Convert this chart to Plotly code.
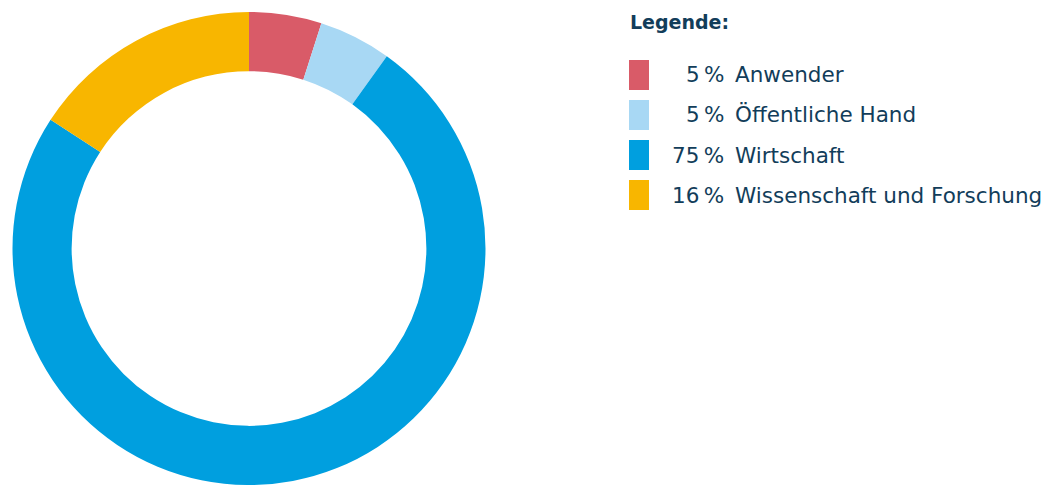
import plotly.graph_objects as go

labels = ["Anwender", "Öffentliche Hand", "Wirtschaft", "Wissenschaft und Forschung"]
values = [5, 5, 75, 16]
colors = ["#D95B68", "#A8D8F4", "#009FDF", "#F8B600"]
legend_title = "Legende:"

W, H = 1052, 486
OFF = 8  # default page body margin
TEXT = "#123D5A"
FONT = "DejaVu Sans"


def px(x):
    return (x - OFF) / W


def py(y):
    return 1 - (y - OFF) / H


fig = go.Figure(go.Pie(
    labels=labels, values=values, sort=False, direction="clockwise", rotation=0,
    hole=0.75, textinfo="none", hoverinfo="label+percent",
    marker=dict(colors=colors, line=dict(width=0)),
    domain=dict(x=[px(11), px(487)], y=[py(485), py(12)]),
    showlegend=False,
))

annotations = [dict(x=px(628), y=py(22), xref="paper", yref="paper", text="<b>" + legend_title + "</b>",
                    showarrow=False, xanchor="left", yanchor="middle",
                    font=dict(family=FONT, size=19, color=TEXT))]
shapes = []
for i, (lab, val, col) in enumerate(zip(labels, values, colors)):
    cy = 75 + 40 * i
    shapes.append(dict(type="rect", xref="paper", yref="paper", x0=px(629), x1=px(649),
                       y0=py(cy + 15), y1=py(cy - 15), fillcolor=col, line=dict(width=0)))
    annotations.append(dict(x=px(726), y=py(cy), xref="paper", yref="paper", text=f"{val}\u202f%",
                            showarrow=False, xanchor="right", yanchor="middle",
                            font=dict(family=FONT, size=21.5, color=TEXT)))
    annotations.append(dict(x=px(733), y=py(cy), xref="paper", yref="paper", text=lab,
                            showarrow=False, xanchor="left", yanchor="middle",
                            font=dict(family=FONT, size=21.5, color=TEXT)))

fig.update_layout(width=W, height=H, margin=dict(l=0, r=0, t=0, b=0),
                  paper_bgcolor="white", plot_bgcolor="white",
                  annotations=annotations, shapes=shapes)
fig.write_html("out.html")
